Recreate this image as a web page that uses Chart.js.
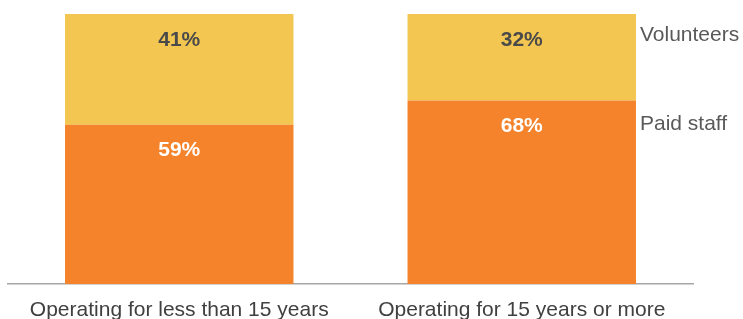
<!DOCTYPE html>
<html>
<head>
<meta charset="utf-8">
<script src="https://cdn.jsdelivr.net/npm/chart.js@4/dist/chart.umd.min.js"></script>
<style>
  html, body { margin: 0; padding: 0; background: #fff; }
  #wrap { width: 743px; height: 319px; }
</style>
</head>
<body>
<div id="wrap"><canvas id="chart"></canvas></div>
<script>
const categories = ["Operating for less than 15 years", "Operating for 15 years or more"];
const paidStaff = [59, 68];
const volunteers = [41, 32];
const seriesNames = ["Paid staff", "Volunteers"];

// labels near top of each segment + series names beside the last bar
const segmentLabels = {
  id: "segmentLabels",
  afterDatasetsDraw(chart) {
    const ctx = chart.ctx;
    ctx.save();
    ctx.font = "bold 21px 'Liberation Sans', Arial, sans-serif";
    ctx.textAlign = "center";
    ctx.textBaseline = "middle";
    chart.data.datasets.forEach((ds, i) => {
      const meta = chart.getDatasetMeta(i);
      meta.data.forEach((bar, j) => {
        ctx.fillStyle = i === 0 ? "#ffffff" : "#4a4a4a";
        ctx.fillText(ds.data[j] + "%", bar.x, bar.y + 26);
      });
      const last = meta.data[meta.data.length - 1];
      ctx.save();
      ctx.font = "21px 'Liberation Sans', Arial, sans-serif";
      ctx.textAlign = "left";
      ctx.fillStyle = "#595959";
      ctx.fillText(ds.label, last.x + last.width / 2 + 4, last.y + (i === 0 ? 24 : 21));
      ctx.restore();
    });
    ctx.restore();
  }
};

new Chart(document.getElementById("chart"), {
  type: "bar",
  data: {
    labels: categories,
    datasets: [
      { label: seriesNames[0], data: paidStaff, backgroundColor: "#F4832B" },
      { label: seriesNames[1], data: volunteers, backgroundColor: "#F2C650" }
    ]
  },
  options: {
    responsive: true,
    maintainAspectRatio: false,
    animation: false,
    layout: { padding: { left: 8, right: 50, top: 14, bottom: 0 } },
    datasets: { bar: { categoryPercentage: 1, barPercentage: 0.667 } },
    plugins: { legend: { display: false }, tooltip: { enabled: false } },
    scales: {
      x: {
        stacked: true,
        grid: { display: false },
        border: { display: true, color: "#a6a6a6", width: 1.5 },
        afterFit(scale) { scale.height = 35; },
        ticks: {
          color: "#404040",
          padding: 6,
          maxRotation: 0,
          autoSkip: false,
          font: { family: "'Liberation Sans', Arial, sans-serif", size: 21 }
        }
      },
      y: { stacked: true, display: false, min: 0, max: 100 }
    }
  },
  plugins: [segmentLabels]
});
</script>
</body>
</html>
